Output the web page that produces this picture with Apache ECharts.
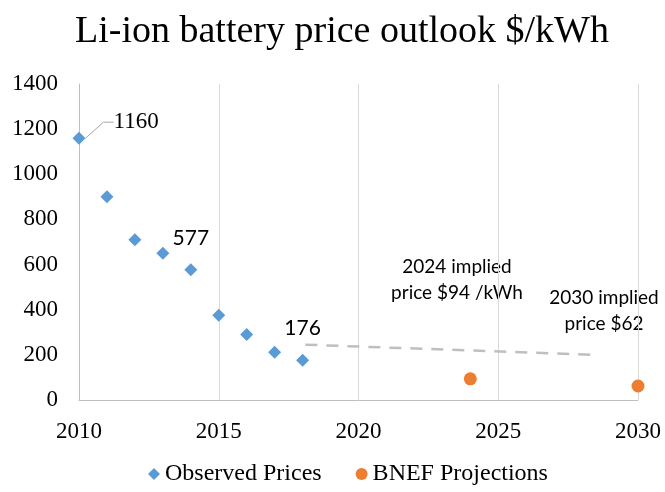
<!DOCTYPE html>
<html>
<head>
<meta charset="utf-8">
<script src="https://cdn.jsdelivr.net/npm/echarts@6/dist/echarts.min.js"></script>
<style>
  html, body { margin: 0; padding: 0; background: #fff; }
  #main { width: 665px; height: 492px; }
</style>
</head>
<body>
<div id="main"></div>
<script>
// observed prices ($/kWh)
const observedYears = [2010, 2011, 2012, 2013, 2014, 2015, 2016, 2017, 2018];
const observedPrices = [1160, 900, 710, 650, 577, 375, 290, 212, 176];
// BNEF projections
const bnefYears = [2024, 2030];
const bnefPrices = [94, 62];
// dashed trend line
const trendYears = [2018.1, 2028.5];
const trendPrices = [245, 200];
// which observed points get a value label
const labelledYears = [2010, 2014, 2018];

const serif = '"Liberation Serif", "Times New Roman", serif';
const sans = 'Lato, "Liberation Sans", sans-serif';

const chart = echarts.init(document.getElementById('main'));

const observedData = observedYears.map(function (y, i) {
    const item = { value: [y, observedPrices[i]] };
    if (labelledYears.indexOf(y) >= 0) {
        if (y === 2010) {
            item.label = { show: true, position: 'right', distance: 5 };
            item.labelLine = { show: true, length2: 10, lineStyle: { color: '#A6A6A6', width: 1 } };
        } else {
            item.label = {
                show: true, position: 'top', distance: 15,
                fontFamily: sans, fontSize: 21
            };
        }
    }
    return item;
});

const plain = function (v) { return String(v); };

const option = {
    backgroundColor: '#ffffff',
    animation: false,
    title: {
        text: 'Li-ion battery price outlook $/kWh',
        left: 70,
        top: 8,
        textStyle: { fontFamily: serif, fontSize: 38, fontWeight: 'normal', color: '#000' }
    },
    legend: {
        data: [
            { name: 'Observed Prices', icon: 'diamond' },
            { name: 'BNEF Projections', icon: 'circle' }
        ],
        bottom: 1,
        left: 143,
        itemWidth: 12,
        itemHeight: 12,
        itemGap: 34,
        textStyle: { fontFamily: serif, fontSize: 24, color: '#000' }
    },
    grid: { left: 79, right: 27, top: 84, bottom: 92 },
    xAxis: {
        type: 'value',
        min: 2010,
        max: 2030,
        interval: 5,
        axisLine: { lineStyle: { color: '#BFBFBF', width: 1 } },
        axisTick: { show: false },
        axisLabel: { fontFamily: serif, fontSize: 23, color: '#000', margin: 20, formatter: plain },
        splitLine: { show: true, lineStyle: { color: '#D9D9D9', width: 1 } }
    },
    yAxis: {
        type: 'value',
        min: 0,
        max: 1400,
        interval: 200,
        axisLine: { show: true, lineStyle: { color: '#BFBFBF', width: 1 } },
        axisTick: { show: false },
        axisLabel: { fontFamily: serif, fontSize: 23, color: '#000', margin: 21, formatter: plain },
        splitLine: { show: false }
    },
    series: [
        {
            name: 'trend',
            type: 'line',
            data: trendYears.map(function (y, i) { return [y, trendPrices[i]]; }),
            symbol: 'none',
            lineStyle: { color: '#BFBFBF', width: 2.5, type: [12, 9] },
            silent: true,
            z: 1
        },
        {
            name: 'Observed Prices',
            type: 'scatter',
            symbol: 'diamond',
            symbolSize: 13,
            itemStyle: { color: '#5B9BD5', opacity: 1 },
            label: {
                show: false,
                fontFamily: serif, fontSize: 23, color: '#000',
                formatter: function (p) { return p.value[1]; }
            },
            labelLayout: function (params) {
                if (params.dataIndex === 0) {
                    return { dx: 23, dy: -16 };
                }
            },
            data: observedData,
            z: 3
        },
        {
            name: 'BNEF Projections',
            type: 'scatter',
            symbol: 'circle',
            symbolSize: 13,
            itemStyle: { color: '#ED7D31', opacity: 1 },
            data: bnefYears.map(function (y, i) { return [y, bnefPrices[i]]; }),
            z: 3
        }
    ],
    graphic: [
        {
            type: 'text', x: 457, y: 280,
            style: {
                text: '2024 implied\nprice $94 /kWh', fontFamily: sans, fontSize: 19,
                lineHeight: 26, fill: '#000', align: 'center', verticalAlign: 'middle'
            }
        },
        {
            type: 'text', x: 604, y: 311,
            style: {
                text: '2030 implied\nprice $62', fontFamily: sans, fontSize: 19,
                lineHeight: 26, fill: '#000', align: 'center', verticalAlign: 'middle'
            }
        }
    ]
};

chart.setOption(option);
</script>
</body>
</html>
